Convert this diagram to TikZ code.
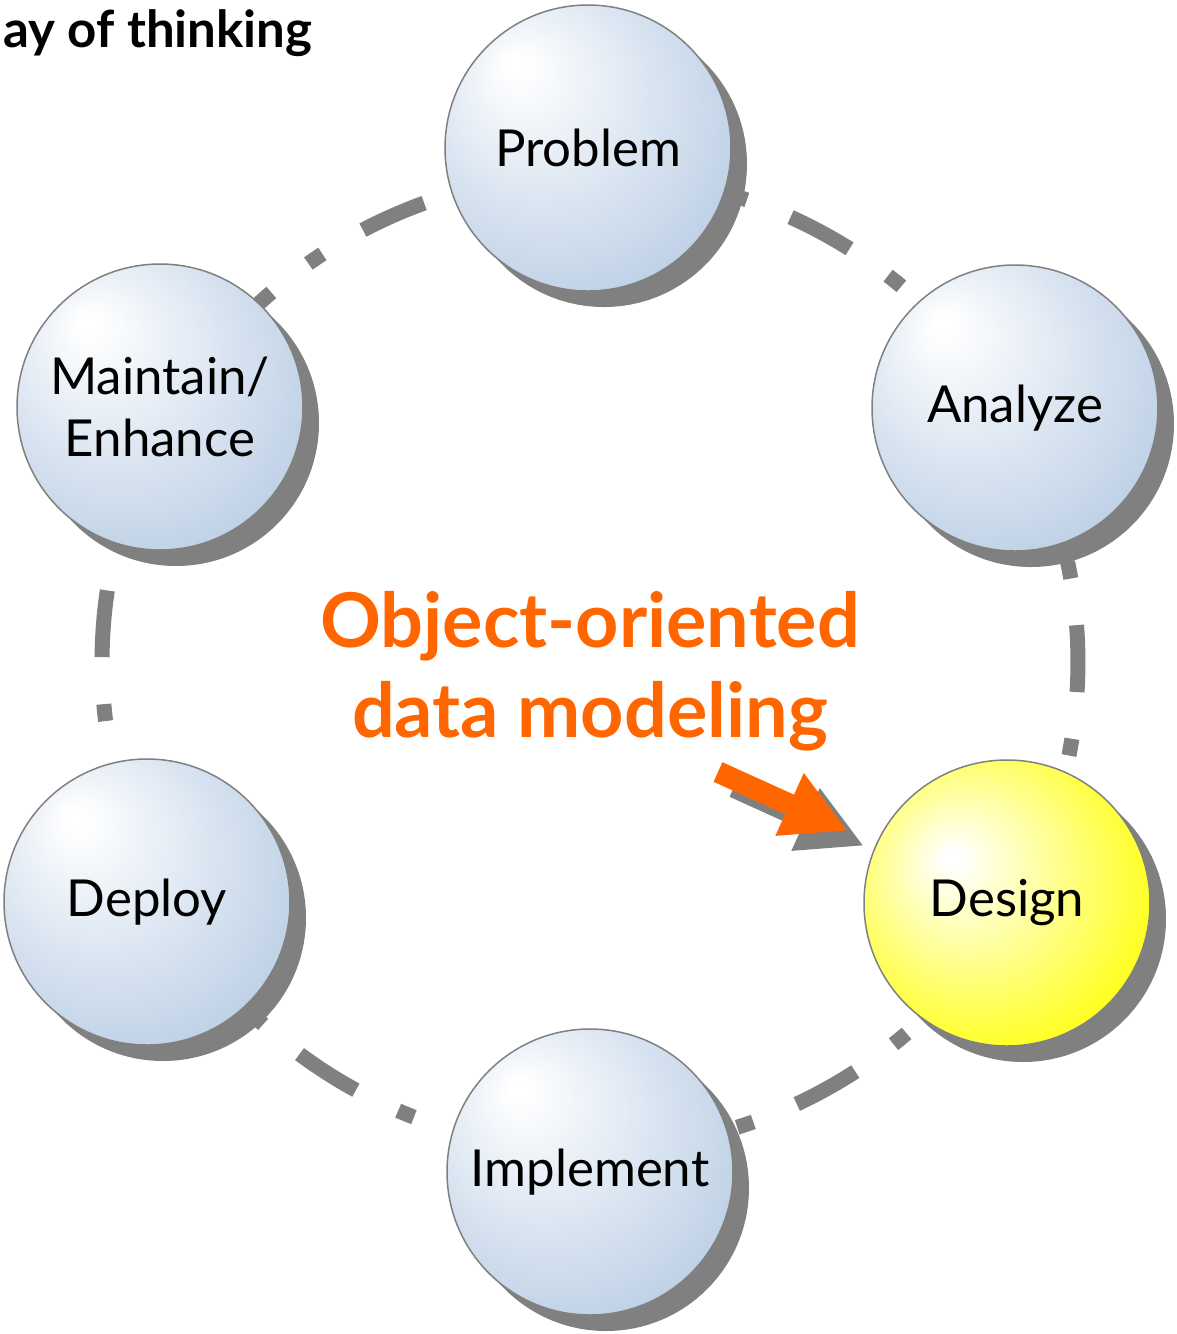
\documentclass[tikz,border=0pt]{standalone}
\usepackage{fontspec}
\setmainfont{Lato}
\usetikzlibrary{shadows, arrows.meta}

\definecolor{stageblue}{RGB}{184,204,228}
\definecolor{stageyellow}{RGB}{255,255,0}
\definecolor{ringgray}{RGB}{128,128,128}
\definecolor{hilite}{RGB}{255,102,0}

\pgfdeclareradialshading{bluegloss}{\pgfpoint{-13bp}{15bp}}{color(0bp)=(white); color(1.5bp)=(white); color(36bp)=(stageblue); color(50bp)=(stageblue)}
\pgfdeclareradialshading{yellowgloss}{\pgfpoint{-10bp}{8bp}}{color(0bp)=(white); color(1.5bp)=(white); color(34bp)=(stageyellow); color(50bp)=(stageyellow)}

\tikzset{
    stage/.style={circle, draw=ringgray, line width=0.15mm, minimum size=28.6mm, inner sep=0pt, align=center,
        font=\fontsize{14.5}{17.8}\selectfont, shade, shading=bluegloss,
        drop shadow={shadow xshift=1.6mm, shadow yshift=-1.6mm, fill=ringgray, opacity=1}},
    ring/.style={draw=ringgray, line width=1.5mm, dash pattern=on 6.7mm off 4.7mm on 1.7mm off 4.7mm, dash phase=13.4mm},
    pointer/.style={line width=2.15mm, shorten >=3.1mm, -{Triangle[length=6.4mm, width=6.4mm]}}
}

\begin{document}
\begin{tikzpicture}[x=0.1mm, y=-0.1mm]
        \useasboundingbox (0, 0) rectangle (1177, 1334);

        % dashed cycle behind the stages
        \coordinate (hub) at (590, 662);
        \foreach \m in {61, 122.6, 184.5, 246.2, 298.2, 359.6}
            \draw[ring] (hub) ++(\m-30:488) arc[start angle=\m-30, delta angle=60, radius=488];

        \node[stage] (problem) at (588, 148) {Problem};
        \node[stage] (analyze) at (1015, 408) {Analyze};
        \node[stage, shading=yellowgloss] (design) at (1007, 903) {Design};
        \node[stage] (implement) at (590, 1172) {Implement};
        \node[stage] (deploy) at (147, 902) {Deploy};
        \node[stage] (maintain) at (160, 407) {Maintain/\\Enhance};

        \node[anchor=base east, inner sep=0pt, font=\bfseries\fontsize{14.5}{17}\selectfont] (title) at (313, 47) {ay of thinking};
        \node[anchor=north, inner sep=0pt, align=center, text=hilite, font=\bfseries\fontsize{21.5}{25.6}\selectfont] (oodm) at (590, 591) {Object-oriented\\data modeling};

        \coordinate (arrtail) at (718, 772);
        \draw[pointer, ringgray, transform canvas={xshift=1.6mm, yshift=-1.5mm}] (arrtail) -- (design);
        \draw[pointer, hilite] (arrtail) -- (design);
\end{tikzpicture}
\end{document}
